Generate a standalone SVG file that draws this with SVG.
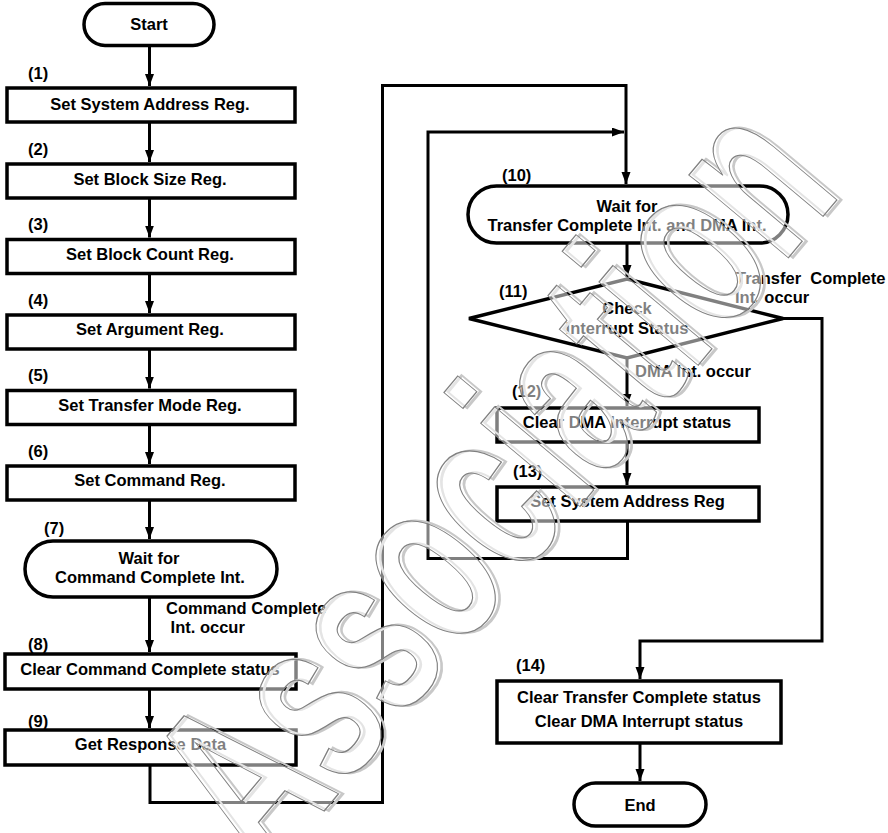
<svg xmlns="http://www.w3.org/2000/svg" width="888" height="833" viewBox="0 0 888 833">
<defs>
<marker id="ah" markerUnits="userSpaceOnUse" markerWidth="13" markerHeight="10" refX="12" refY="4.5" orient="auto">
<path d="M0,0 L12,4.5 L0,9 z" fill="#000"/>
</marker>
<style>
.n{fill:#fff;stroke:#000;stroke-width:3.5}
.t{font-family:"Liberation Sans",Arial,sans-serif;font-weight:bold;font-size:16.5px;fill:#000}
.m{text-anchor:middle}
.c{fill:none;stroke:#000;stroke-width:3}
.wm{font-family:"Liberation Sans",Arial,sans-serif;font-weight:bold;font-size:245px}
</style>
</defs>
<rect width="888" height="833" fill="#fff"/>
<g id="connectors">
<path class="c" d="M149.5,46 V86" marker-end="url(#ah)"/>
<path class="c" d="M149.5,122 V162" marker-end="url(#ah)"/>
<path class="c" d="M149.5,198 V237.5" marker-end="url(#ah)"/>
<path class="c" d="M149.5,273.5 V313" marker-end="url(#ah)"/>
<path class="c" d="M149.5,349 V388.5" marker-end="url(#ah)"/>
<path class="c" d="M149.5,424.5 V464" marker-end="url(#ah)"/>
<path class="c" d="M149.5,500 V539" marker-end="url(#ah)"/>
<path class="c" d="M149.5,597 V652" marker-end="url(#ah)"/>
<path class="c" d="M149.5,689 V728" marker-end="url(#ah)"/>
<path class="c" d="M150,765 V802.5 H382.5 V85.5 H626 V184" marker-end="url(#ah)"/>
<path class="c" d="M627,243 V277" marker-end="url(#ah)"/>
<path class="c" d="M627,358 V406" marker-end="url(#ah)"/>
<path class="c" d="M627,442 V485" marker-end="url(#ah)"/>
<path class="c" d="M627.5,521 V558.5 H428 V132 H624" marker-end="url(#ah)"/>
<path class="c" d="M783,318.5 H822 V641 H640 V679" marker-end="url(#ah)"/>
<path class="c" d="M640,743 V781" marker-end="url(#ah)"/>
<text class="t" x="166" y="614">Command Complete</text>
<text class="t" x="166" y="633" xml:space="preserve"> Int. occur</text>
<text class="t" x="736" y="284" xml:space="preserve">Transfer  Complete</text>
<text class="t" x="735" y="302.5">Int. occur</text>
<text class="t" x="635" y="377">DMA Int. occur</text>
</g>
<g id="start">
<rect class="n" x="84" y="3.5" width="130" height="42" rx="21"/>
<text class="t m" x="149" y="30">Start</text>
</g>
<g id="step1">
<rect class="n" x="7" y="88" width="288" height="34"/>
<text class="t" x="28" y="78.5">(1)</text>
<text class="t m" x="150" y="110">Set System Address Reg.</text>
</g>
<g id="step2">
<rect class="n" x="7" y="164" width="288" height="34"/>
<text class="t" x="28" y="154.5">(2)</text>
<text class="t m" x="150" y="185">Set Block Size Reg.</text>
</g>
<g id="step3">
<rect class="n" x="7" y="239.5" width="288" height="34"/>
<text class="t" x="28" y="230">(3)</text>
<text class="t m" x="150" y="260">Set Block Count Reg.</text>
</g>
<g id="step4">
<rect class="n" x="7" y="315" width="288" height="34"/>
<text class="t" x="28" y="305.5">(4)</text>
<text class="t m" x="150" y="335">Set Argument Reg.</text>
</g>
<g id="step5">
<rect class="n" x="7" y="390.5" width="288" height="34"/>
<text class="t" x="28" y="381">(5)</text>
<text class="t m" x="150" y="411">Set Transfer Mode Reg.</text>
</g>
<g id="step6">
<rect class="n" x="7" y="466" width="288" height="34"/>
<text class="t" x="28" y="456.5">(6)</text>
<text class="t m" x="150" y="486">Set Command Reg.</text>
</g>
<g id="step7">
<rect class="n" x="25" y="541" width="252" height="56" rx="28"/>
<text class="t" x="44" y="534">(7)</text>
<text class="t m" x="149" y="564">Wait for</text>
<text class="t m" x="150" y="583">Command Complete Int.</text>
</g>
<g id="step8">
<rect class="n" x="5" y="654" width="291" height="35"/>
<text class="t" x="28" y="650">(8)</text>
<text class="t m" x="150" y="675">Clear Command Complete status</text>
</g>
<g id="step9">
<rect class="n" x="5" y="730" width="291" height="35"/>
<text class="t" x="28" y="727">(9)</text>
<text class="t m" x="150.5" y="750">Get Response Data</text>
</g>
<g id="step10">
<rect class="n" x="468" y="186" width="320" height="57" rx="28.5"/>
<text class="t" x="502" y="181">(10)</text>
<text class="t m" x="627" y="211.5">Wait for</text>
<text class="t m" x="627" y="231">Transfer Complete Int. and DMA Int.</text>
</g>
<g id="step11">
<path class="n" d="M627,279 L783,318.5 L627,358 L469,318.5 Z"/>
<text class="t" x="499" y="297">(11)</text>
<text class="t m" x="627" y="314">Check</text>
<text class="t m" x="627" y="334">Interrupt Status</text>
</g>
<g id="step12">
<rect class="n" x="497" y="408" width="262" height="34"/>
<text class="t" x="512" y="397">(12)</text>
<text class="t m" x="627" y="428">Clear DMA Interrupt status</text>
</g>
<g id="step13">
<rect class="n" x="497" y="487" width="262" height="34"/>
<text class="t" x="513" y="477">(13)</text>
<text class="t m" x="627.5" y="506.5">Set System Address Reg</text>
</g>
<g id="step14">
<rect class="n" x="497" y="681" width="284" height="62"/>
<text class="t" x="516" y="671">(14)</text>
<text class="t m" x="639" y="702.5">Clear Transfer Complete status</text>
<text class="t m" x="639" y="727">Clear DMA Interrupt status</text>
</g>
<g id="end">
<rect class="n" x="574" y="783" width="132" height="43" rx="21.5"/>
<text class="t m" x="640" y="810.5">End</text>
</g>
<g id="watermark" transform="translate(268,878) rotate(-50)">
<text class="wm" x="3" y="3" textLength="895" lengthAdjust="spacingAndGlyphs" fill="none" stroke="#c8c8c8" stroke-width="3">Association</text>
<text class="wm" x="0" y="0" textLength="895" lengthAdjust="spacingAndGlyphs" fill="#fff" fill-opacity="0.5" stroke="#808080" stroke-width="1.3">Association</text>
</g>
</svg>
